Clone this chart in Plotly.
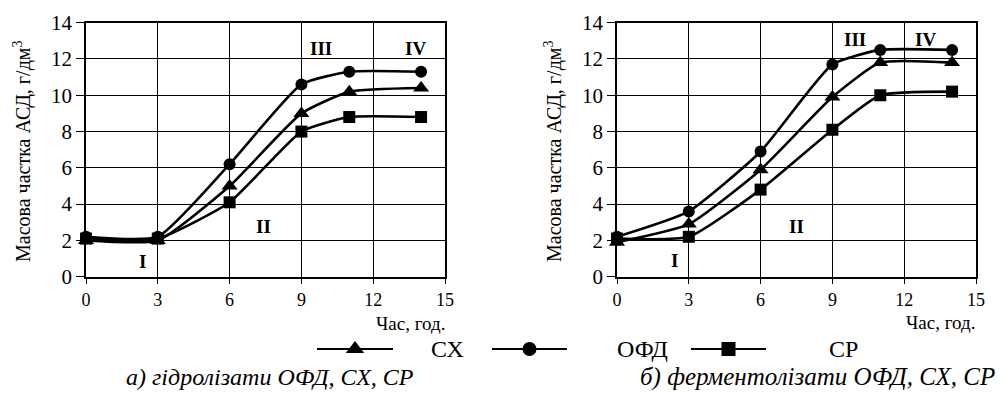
import plotly.graph_objects as go

W, H = 1007, 396

# ---- data ----
hours = [0, 3, 6, 9, 11, 14]
# a) hydrolysates
a_SX = [2.0, 2.0, 5.0, 9.0, 10.2, 10.4]
a_OFD = [2.2, 2.2, 6.2, 10.6, 11.3, 11.3]
a_SR = [2.1, 2.1, 4.1, 8.0, 8.8, 8.8]
# b) fermentolysates
b_SX = [1.9, 2.9, 5.9, 9.9, 11.8, 11.8]
b_OFD = [2.2, 3.6, 6.9, 11.7, 12.5, 12.5]
b_SR = [2.1, 2.2, 4.8, 8.1, 10.0, 10.2]

x_ticks = [0, 3, 6, 9, 12, 15]
y_ticks = [0, 2, 4, 6, 8, 10, 12, 14]
stage_labels = ["I", "II", "III", "IV"]
stage_x_a = [2.35, 7.4, 9.8, 13.75]
stage_y_a = [0.85, 2.75, 12.6, 12.6]
stage_x_b = [2.4, 7.5, 9.95, 12.9]
stage_y_b = [0.9, 2.75, 13.1, 13.1]

series_names = ["СХ", "ОФД", "СР"]
series_symbols = ["triangle-up", "circle", "square"]
series_sizes = [14, 12, 12]

y_title = "Масова частка АСД, г/дм<sup>3</sup>"
x_title = "Час, год."
caption_a = "а) гідролізати ОФД, СХ, СР"
caption_b = "б) ферментолізати ОФД, СХ, СР"

FONT = "Liberation Serif, DejaVu Serif, Times New Roman, serif"

fig = go.Figure()

OFF = 8  # page body margin offset

def px_x(p):
    return (p - OFF) / W

def px_y(p):
    return 1 - (p - OFF) / H

dom_a = [px_x(86), px_x(445)]
dom_b = [px_x(617), px_x(976)]
dom_y = [px_y(276.7), px_y(22.7)]

panels = [
    ("x", "y", [a_SX, a_OFD, a_SR]),
    ("x2", "y2", [b_SX, b_OFD, b_SR]),
]
for xa, ya, vals in panels:
    for name, sym, sz, v in zip(series_names, series_symbols, series_sizes, vals):
        fig.add_trace(go.Scatter(
            x=hours, y=v, name=name, xaxis=xa, yaxis=ya,
            mode="lines+markers",
            line=dict(color="black", width=2.6, shape="spline", smoothing=0.5),
            marker=dict(symbol=sym, size=sz, color="black"),
            showlegend=False, cliponaxis=False,
        ))

axis_common = dict(
    range=[0, 15], tickvals=x_ticks, showgrid=True, gridcolor="black", gridwidth=1.3,
    showline=True, linecolor="black", linewidth=1.5, mirror=True,
    ticks="outside", ticklen=6, tickcolor="black", tickwidth=1.3,
    tickfont=dict(family=FONT, size=18, color="black"), zeroline=False,
    automargin=False,
)
yaxis_common = dict(
    range=[0, 14], tickvals=y_ticks, showgrid=True, gridcolor="black", gridwidth=1.3,
    showline=True, linecolor="black", linewidth=1.5, mirror=True,
    ticks="outside", ticklen=8, tickcolor="black", tickwidth=1.3,
    tickfont=dict(family=FONT, size=21, color="black"), zeroline=False,
    automargin=False,
)

# legend strip axes (reference-pixel units, only cover the legend row)
LX0, LX1, LY0, LY1 = 300, 880, 333, 365
fig.update_layout(
    width=W, height=H,
    margin=dict(l=0, r=0, t=0, b=0),
    font=dict(family=FONT, color="black"),
    paper_bgcolor="white", plot_bgcolor="rgba(0,0,0,0)",
    xaxis=dict(domain=dom_a, anchor="y", **axis_common),
    yaxis=dict(domain=dom_y, anchor="x", **yaxis_common),
    xaxis2=dict(domain=dom_b, anchor="y2", **axis_common),
    yaxis2=dict(domain=dom_y, anchor="x2", **yaxis_common),
    xaxis3=dict(domain=[px_x(LX0), px_x(LX1)], range=[LX0, LX1], visible=False, anchor="y3"),
    yaxis3=dict(domain=[px_y(LY1), px_y(LY0)], range=[LY1, LY0], visible=False, anchor="x3"),
    showlegend=False,
)

annotations = []
for xs, ys, xr, yr in [(stage_x_a, stage_y_a, "x", "y"), (stage_x_b, stage_y_b, "x2", "y2")]:
    for lab, sx, sy in zip(stage_labels, xs, ys):
        annotations.append(dict(
            x=sx, y=sy, xref=xr, yref=yr, text=f"<b>{lab}</b>", showarrow=False,
            xanchor="center", yanchor="middle",
            font=dict(family=FONT, size=19, color="black"),
        ))

for xc in [22, 553]:
    annotations.append(dict(
        x=px_x(xc), y=px_y(152), xref="paper", yref="paper", text=y_title,
        textangle=-90, showarrow=False, xanchor="center", yanchor="middle",
        font=dict(family=FONT, size=20, color="black"),
    ))
for xc, yc in [(410, 323), (940, 322)]:
    annotations.append(dict(
        x=px_x(xc), y=px_y(yc), xref="paper", yref="paper", text=x_title,
        showarrow=False, xanchor="center", yanchor="middle",
        font=dict(family=FONT, size=19, color="black"),
    ))

# custom legend row
leg_y = 349
leg_lines = [(317, 393), (492, 567), (691, 766)]
leg_text_x = [447, 642, 843]
for (x0, x1), tx, name, sym, sz in zip(leg_lines, leg_text_x, series_names, series_symbols, series_sizes):
    fig.add_trace(go.Scatter(
        x=[x0, x1], y=[leg_y, leg_y], xaxis="x3", yaxis="y3",
        mode="lines", line=dict(color="black", width=2), showlegend=False, hoverinfo="skip",
    ))
    fig.add_trace(go.Scatter(
        x=[(x0 + x1) / 2], y=[leg_y], xaxis="x3", yaxis="y3",
        mode="markers", marker=dict(symbol=sym, size=sz + 2, color="black"),
        showlegend=False, hoverinfo="skip",
    ))
    annotations.append(dict(
        x=px_x(tx), y=px_y(leg_y), xref="paper", yref="paper", text=name, showarrow=False,
        xanchor="center", yanchor="middle",
        font=dict(family=FONT, size=24, color="black"),
    ))

for xc, txt, fs in [(270, caption_a, 24), (817, caption_b, 25)]:
    annotations.append(dict(
        x=px_x(xc), y=px_y(377), xref="paper", yref="paper", text=f"<i>{txt}</i>",
        showarrow=False, xanchor="center", yanchor="middle",
        font=dict(family=FONT, size=fs, color="black"),
    ))

fig.update_layout(annotations=annotations)
fig.write_html("out.html")
